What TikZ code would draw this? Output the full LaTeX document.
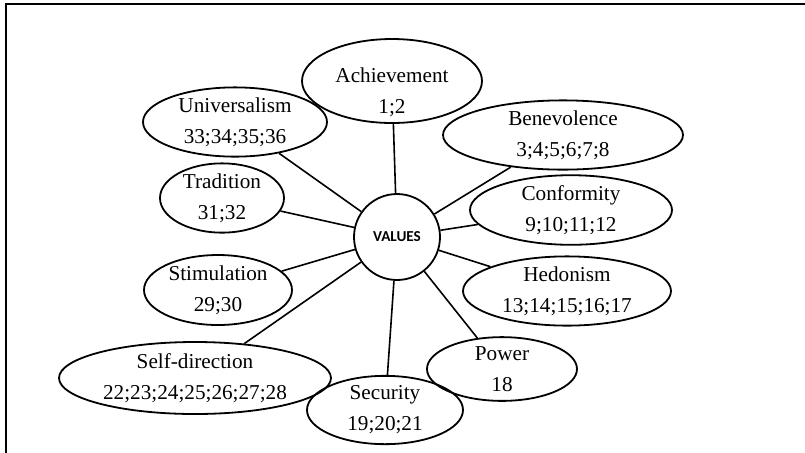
\documentclass[tikz,border=0pt]{standalone}
\usepackage{fontspec}
\setmainfont{Liberation Serif}
\newfontfamily\valuesfont{Carlito}
\usetikzlibrary{shapes.geometric}

\begin{document}
\begin{tikzpicture}[
    x=0.5pt,y=-0.5pt,
    val/.style={draw,ellipse,line width=0.9pt,inner sep=0pt,align=center,font=\fontsize{10.6}{15.5}\selectfont},
    txt/.style={inner sep=0pt,align=center,font=\fontsize{10.6}{15.5}\selectfont},
    hub/.style={draw,circle,line width=0.9pt,inner sep=0pt,minimum size=43pt,font=\valuesfont\bfseries\fontsize{7.6}{9}\selectfont},
    link/.style={line width=0.8pt},
  ]
    \useasboundingbox (0,0) rectangle (805,452);
    \clip (0,0) rectangle (805,452);
    \draw[line width=1.2pt] (6,4) rectangle (840,490);
    \node[hub] (VAL) at (397,237) {VALUES};
    \node[val,minimum width=90pt,minimum height=42pt] (ACH) at (392,81) {};
    \node[txt] (ACHtxt) at (392,92) {Achievement\\1;2};
    \node[val,minimum width=92pt,minimum height=33pt]  (UNI)  at (235,122) {Universalism\\33;34;35;36};
    \node[val,minimum width=62pt,minimum height=31pt]  (TRA)  at (222,198) {Tradition\\31;32};
    \node[val,minimum width=120pt,minimum height=30pt] (BEN)  at (563,135) {Benevolence\\3;4;5;6;7;8};
    \node[val,minimum width=101pt,minimum height=29pt] (CON)  at (571,210) {Conformity\\9;10;11;12};
    \node[val,minimum width=104pt,minimum height=33pt] (HED)  at (567,291) {Hedonism\\13;14;15;16;17};
    \node[val,minimum width=75pt,minimum height=29pt]  (POW)  at (502,369) {Power\\18};
    \node[val,minimum width=78pt,minimum height=27pt]  (SEC)  at (385,410) {Security\\19;20;21};
    \node[val,minimum width=136pt,minimum height=36pt] (SELF) at (195,378) {Self-direction\\22;23;24;25;26;27;28};
    \node[val,minimum width=74pt,minimum height=35pt]  (STI)  at (218,290) {Stimulation\\29;30};
    \foreach \n in {ACH,UNI,TRA,BEN,CON,HED,POW,SEC,SELF,STI}
      \draw[link] (VAL) -- (\n);
  \end{tikzpicture}
\end{document}
